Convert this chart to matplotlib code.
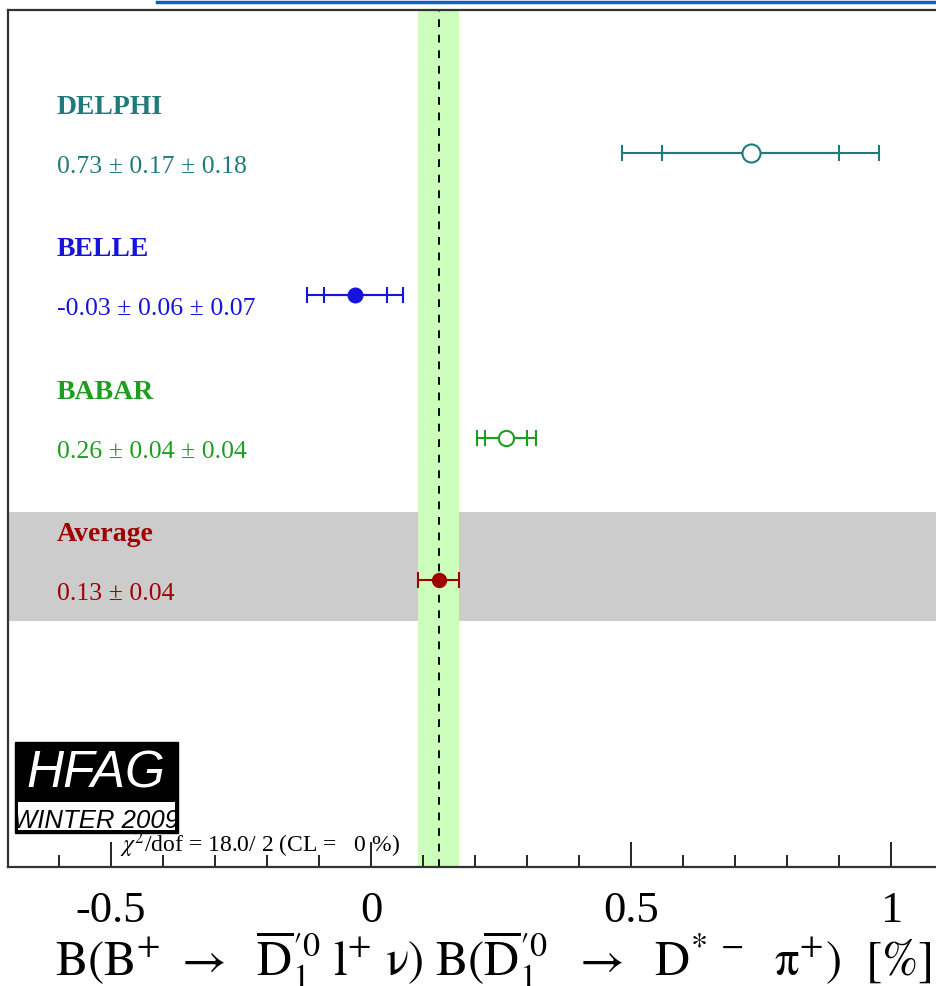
"""
HFAG style average plot: B(B+ -> D1'0 l nu) x B(D1'0 -> D*- pi+)
"""

import numpy as np
import matplotlib.pyplot as plt
from matplotlib.patches import Rectangle
from matplotlib.lines import Line2D

plt.rcParams['font.family'] = ['Liberation Serif', 'DejaVu Serif']
plt.rcParams['mathtext.fontset'] = 'stix'
plt.rcParams['axes.unicode_minus'] = False

# measurements
names = ["DELPHI", "BELLE", "BABAR"]
values = [0.73, -0.03, 0.26]
stat = [0.17, 0.06, 0.04]
syst = [0.18, 0.07, 0.04]
labels = ["0.73 \u00b1 0.17 \u00b1 0.18", "-0.03 \u00b1 0.06 \u00b1 0.07", "0.26 \u00b1 0.04 \u00b1 0.04"]
colors = ["#1f7b7b", "#1414dc", "#1e9e1e"]
filled = [False, True, False]
msizes = [13, 10, 11]

avg_value = 0.13
avg_err = 0.04
avg_label = "0.13 \u00b1 0.04"
avg_color = "#a00000"

chi2_text = r"$\chi^{2}$/dof = 18.0/ 2 (CL =   0 %)"
tick_vals = [-0.5, 0, 0.5, 1]
tick_text = ["-0.5", "0", "0.5", "1"]

W, H = 937, 986
fig = plt.figure(figsize=(W / 100, H / 100), dpi=100)

def fx(px):
    return px / W

def fy(py):
    return 1 - py / H

# axes (right edge runs past the picture, like the reference crop)
ax = fig.add_axes([fx(8), fy(867), fx(995 - 8), fy(10) - fy(867)])
ax.set_xlim(-0.698, 1.2)
ax.set_ylim(-1.014, 5.004)

rows = [4, 3, 2]
avg_row = 1

# grey band for the average row, green band for the average value
ax.axhspan(avg_row - 0.29, avg_row + 0.48, color="#cccccc", lw=0, zorder=0)
ax.axvspan(avg_value - avg_err, avg_value + avg_err, color="#ccffbb", lw=0, zorder=1)
ax.axvline(avg_value, color="black", ls=(0, (4, 4)), lw=1.4, zorder=2)

for name, v, s, sy, lab, c, f, ms, r in zip(names, values, stat, syst, labels,
                                             colors, filled, msizes, rows):
    tot = np.sqrt(s ** 2 + sy ** 2)
    ax.errorbar(v, r, xerr=tot, color=c, lw=1.5, capsize=6, capthick=1.5,
                fmt="none", zorder=3)
    ax.errorbar(v, r, xerr=s, color=c, lw=1.5, capsize=6, capthick=1.5,
                fmt="none", zorder=3)
    ax.plot(v, r, "o", ms=ms, mec=c, mew=1.5,
            mfc=c if f else "white", zorder=4)
    ax.text(-0.604, r + 0.274, name, color=c, fontsize=20, fontweight="bold",
            va="baseline", ha="left")
    ax.text(-0.604, r - 0.14, lab, color=c, fontsize=18.5, va="baseline", ha="left")

ax.errorbar(avg_value, avg_row, xerr=avg_err, color=avg_color, lw=1.5, capsize=6,
            capthick=1.5, fmt="none", zorder=3)
ax.plot(avg_value, avg_row, "o", ms=10, color=avg_color, zorder=4)
ax.text(-0.604, avg_row + 0.274, "Average", color=avg_color, fontsize=20,
        fontweight="bold", va="baseline", ha="left")
ax.text(-0.604, avg_row - 0.14, avg_label, color=avg_color, fontsize=18.5,
        va="baseline", ha="left")

# axis styling
for sp in ax.spines.values():
    sp.set_linewidth(1.6)
    sp.set_color("#333333")
ax.set_xticks(tick_vals)
ax.set_xticklabels(tick_text, fontsize=32)
ax.set_xticks(np.arange(-0.6, 1.15, 0.1), minor=True)
ax.set_yticks([])
ax.tick_params(axis="x", which="major", direction="in", length=18, width=1.2,
               pad=17, top=False)
ax.tick_params(axis="x", which="minor", direction="in", length=9, width=1.2,
               top=False)

# x label
xlabel = (r"$\mathrm{B(B^{+}\ \rightarrow\ \ \overline{D}_{1}^{\prime 0}\ l^{+}\ \nu)"
          r"\ B(\overline{D}_{1}^{\prime 0}\ \ \rightarrow\ \ D^{*\ -}\ \ \pi^{+})\ \ [\%]}$")
fig.text(fx(932), fy(975), xlabel, fontsize=35, ha="right", va="baseline")

# chi2 text
fig.text(fx(120), fy(852), chi2_text, fontsize=17, ha="left", va="baseline")

# HFAG logo
fig.patches.append(Rectangle((fx(15), fy(833)), fx(163), fy(742) - fy(833),
                             transform=fig.transFigure, color="black", zorder=5))
fig.patches.append(Rectangle((fx(18), fy(830)), fx(157), fy(802) - fy(830),
                             transform=fig.transFigure, facecolor="white",
                             edgecolor="none", zorder=6))
fig.text(fx(96), fy(788), "HFAG", color="white", fontsize=37, style="italic",
         family="Liberation Sans", ha="center", va="baseline", zorder=7)
fig.text(fx(96), fy(828), "WINTER 2009", color="black", fontsize=18.5,
         style="italic", family="Liberation Sans", ha="center", va="baseline",
         zorder=7)

# blue strip at the top of the page
fig.lines.append(Line2D([fx(157), 1], [fy(1.5), fy(1.5)], transform=fig.transFigure,
                        color="#1060c0", lw=2.5))

plt.savefig("out.png", dpi=100)
